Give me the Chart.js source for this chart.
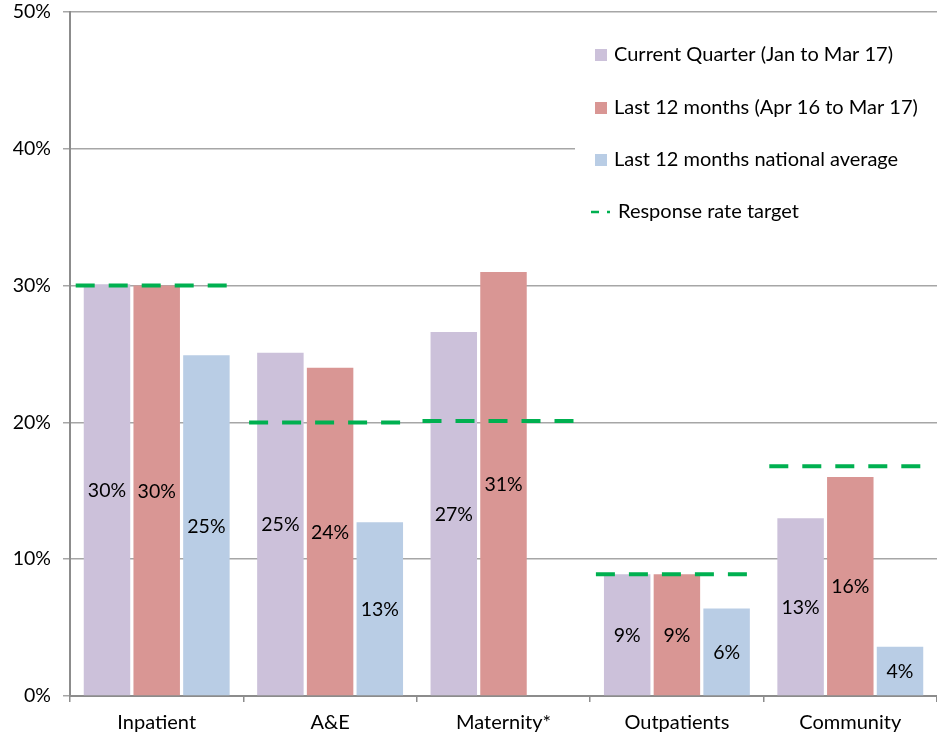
<!DOCTYPE html>
<html>
<head>
<meta charset="utf-8">
<script src="https://cdn.jsdelivr.net/npm/chart.js@4/dist/chart.umd.min.js"></script>
<style>
  html, body { margin: 0; padding: 0; background: #fff; }
  #wrap { width: 937px; height: 734px; position: relative; }
</style>
</head>
<body>
<div id="wrap"><canvas id="c" width="937" height="734"></canvas></div>
<script>
// Response rates by service
const categories = ['Inpatient', 'A&E', 'Maternity*', 'Outpatients', 'Community'];
const currentQuarter = [30.1, 25.1, 26.6, 8.9, 13.0];
const last12Months = [30.0, 24.0, 31.0, 8.9, 16.0];
const nationalAverage = [24.9, 12.7, null, 6.4, 3.6];
const responseTarget = [30.0, 20.0, 20.1, 8.9, 16.8];
const yTicks = [0, 10, 20, 30, 40, 50];

const seriesNames = [
  'Current Quarter (Jan to Mar 17)',
  'Last 12 months (Apr 16 to Mar 17)',
  'Last 12 months national average'
];
const targetName = 'Response rate target';

const COLORS = ['#CCC1DA', '#D99694', '#B9CDE5'];
const GREEN = '#00B050';
const FONT = 'Lato, "Open Sans", sans-serif';

// Dashed target line across each category
const targetLines = {
  id: 'targetLines',
  afterDatasetsDraw(chart) {
    const { ctx, scales: { x, y } } = chart;
    ctx.save();
    ctx.strokeStyle = GREEN;
    ctx.lineWidth = 4;
    ctx.setLineDash([19, 14]);
    responseTarget.forEach((t, i) => {
      if (t == null) return;
      const cx = x.getPixelForValue(i);
      const py = y.getPixelForValue(t);
      ctx.beginPath();
      ctx.moveTo(cx - 81, py);
      ctx.lineTo(cx + 71, py);
      ctx.stroke();
    });
    ctx.restore();
  }
};

// Percentage labels in the middle of each bar
const barLabels = {
  id: 'barLabels',
  afterDatasetsDraw(chart) {
    const { ctx } = chart;
    ctx.save();
    ctx.font = '19.5px ' + FONT;
    ctx.fillStyle = '#000';
    ctx.textAlign = 'center';
    ctx.textBaseline = 'middle';
    chart.data.datasets.forEach((ds, di) => {
      const meta = chart.getDatasetMeta(di);
      meta.data.forEach((bar, i) => {
        const v = ds.data[i];
        if (v == null) return;
        const { x, y, base } = bar.getProps(['x', 'y', 'base'], true);
        ctx.fillText(Math.round(v) + '%', x, (y + base) / 2 + 1);
      });
    });
    ctx.restore();
  }
};

// Legend box in the upper right of the plot
const boxLegend = {
  id: 'boxLegend',
  afterDraw(chart) {
    const { ctx, chartArea } = chart;
    const left = 575;
    ctx.save();
    ctx.fillStyle = '#fff';
    ctx.fillRect(left, 26, chartArea.right - left, 212);
    ctx.font = '20px ' + FONT;
    ctx.textBaseline = 'middle';
    ctx.textAlign = 'left';
    const rowY = [55, 108, 160, 212];
    chart.data.datasets.forEach((ds, i) => {
      ctx.fillStyle = ds.backgroundColor;
      ctx.fillRect(595, rowY[i] - 6, 12, 12);
      ctx.fillStyle = '#000';
      ctx.fillText(ds.label, 614, rowY[i]);
    });
    ctx.strokeStyle = GREEN;
    ctx.lineWidth = 2.5;
    ctx.beginPath();
    ctx.moveTo(591, rowY[3]); ctx.lineTo(599, rowY[3]);
    ctx.moveTo(607, rowY[3]); ctx.lineTo(610, rowY[3]);
    ctx.stroke();
    ctx.fillStyle = '#000';
    ctx.fillText(targetName, 618, rowY[3]);
    ctx.restore();
  }
};

new Chart(document.getElementById('c'), {
  type: 'bar',
  data: {
    labels: categories,
    datasets: [
      { label: seriesNames[0], data: currentQuarter, backgroundColor: COLORS[0] },
      { label: seriesNames[1], data: last12Months, backgroundColor: COLORS[1] },
      { label: seriesNames[2], data: nationalAverage, backgroundColor: COLORS[2] }
    ]
  },
  options: {
    responsive: false,
    animation: false,
    devicePixelRatio: 1,
    layout: { padding: { top: 12, right: 0, left: 0, bottom: 0 } },
    categoryPercentage: 0.86,
    barPercentage: 0.935,
    plugins: {
      legend: { display: false },
      tooltip: { enabled: false }
    },
    scales: {
      x: {
        grid: {
          offset: true,
          drawOnChartArea: false,
          drawTicks: true,
          tickLength: 6,
          color: '#8c8c8c',
          lineWidth: 1.5
        },
        border: { color: '#8c8c8c', width: 2 },
        ticks: { color: '#000', font: { family: FONT, size: 20 }, padding: 9 },
        afterFit(scale) { scale.height = 38; }
      },
      y: {
        min: 0,
        max: 50,
        afterBuildTicks(scale) { scale.ticks = yTicks.map(v => ({ value: v })); },
        grid: { color: '#a6a6a6', lineWidth: 1.5, tickLength: 7 },
        border: { color: '#8c8c8c', width: 2 },
        ticks: {
          color: '#000',
          font: { family: FONT, size: 19.5 },
          padding: 12,
          callback: v => v + '%'
        },
        afterFit(scale) {
          scale.width = 70;
          scale.paddingTop = 0;
          scale.paddingBottom = 0;
        }
      }
    }
  },
  plugins: [targetLines, barLabels, boxLegend]
});
</script>
</body>
</html>
